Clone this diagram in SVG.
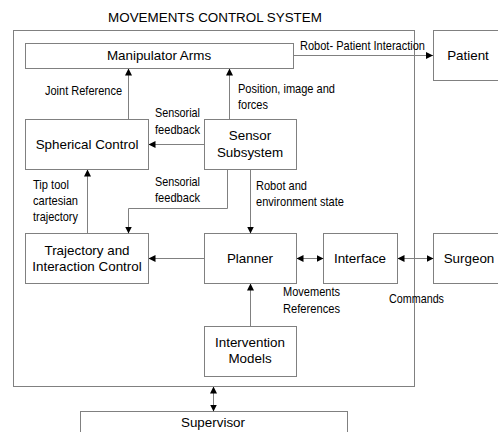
<svg xmlns="http://www.w3.org/2000/svg" width="498" height="432" viewBox="0 0 498 432">
<style>
.box{fill:#fff;stroke:#808080;stroke-width:1}
.t{font-family:"Liberation Sans",Arial,sans-serif;font-size:13.4px;fill:#000;text-anchor:middle}
.l{font-family:"Liberation Sans Narrow","Liberation Sans",Arial,sans-serif;font-size:13.5px;fill:#000}
.c{fill:none;stroke:#808080;stroke-width:1}
</style>
<defs>
<marker id="ah" viewBox="0 0 10 10" refX="10" refY="5" markerWidth="7" markerHeight="7" markerUnits="userSpaceOnUse" orient="auto-start-reverse">
<path d="M0,0 L10,5 L0,10 z" fill="#000"/>
</marker>
</defs>
<rect width="498" height="432" fill="#fff"/>
<g id="system">
<rect class="box" x="13.5" y="30.5" width="401" height="356"/>
<text class="t" x="215" y="22">MOVEMENTS CONTROL SYSTEM</text>
</g>
<g id="manipulator"><rect class="box" x="25.5" y="43.5" width="268" height="25"/><text class="t" x="159" y="60">Manipulator Arms</text></g>
<g id="patient"><rect class="box" x="433.5" y="30.5" width="70" height="50"/><text class="t" x="468" y="60">Patient</text></g>
<g id="spherical"><rect class="box" x="25.5" y="119.5" width="123" height="50"/><text class="t" x="87" y="149">Spherical Control</text></g>
<g id="sensor"><rect class="box" x="204.5" y="119.5" width="92" height="50"/><text class="t" x="250" y="140">Sensor</text><text class="t" x="250" y="157">Subsystem</text></g>
<g id="trajectory"><rect class="box" x="25.5" y="233.5" width="123" height="50"/><text class="t" x="87" y="255">Trajectory and</text><text class="t" x="87" y="271">Interaction Control</text></g>
<g id="planner"><rect class="box" x="204.5" y="233.5" width="92" height="50"/><text class="t" x="250" y="263">Planner</text></g>
<g id="interface"><rect class="box" x="323.5" y="233.5" width="74" height="50"/><text class="t" x="360" y="263">Interface</text></g>
<g id="surgeon"><rect class="box" x="433.5" y="233.5" width="70" height="50"/><text class="t" x="469" y="263">Surgeon</text></g>
<g id="intervention"><rect class="box" x="204.5" y="326.5" width="92" height="50"/><text class="t" x="250" y="347">Intervention</text><text class="t" x="250" y="363">Models</text></g>
<g id="supervisor"><rect class="box" x="80.5" y="411.5" width="267" height="30"/><text class="t" x="213" y="427">Supervisor</text></g>
<g id="connectors">
<path class="c" d="M293.5,55.5 H433" marker-end="url(#ah)"/>
<path class="c" d="M128.5,119.5 V68.5" marker-end="url(#ah)"/>
<path class="c" d="M229.5,119.5 V68.5" marker-end="url(#ah)"/>
<path class="c" d="M204.5,144.5 H148.5" marker-end="url(#ah)"/>
<path class="c" d="M227.5,169.5 V208.5 H128.5 V233.5" marker-end="url(#ah)"/>
<path class="c" d="M250.5,169.5 V233.5" marker-end="url(#ah)"/>
<path class="c" d="M87.5,233.5 V169.5" marker-end="url(#ah)"/>
<path class="c" d="M204.5,258.5 H148.5" marker-end="url(#ah)"/>
<path class="c" d="M296.5,258.5 H323.5" marker-start="url(#ah)" marker-end="url(#ah)"/>
<path class="c" d="M397.5,258.5 H433.5" marker-start="url(#ah)" marker-end="url(#ah)"/>
<path class="c" d="M250.5,326.5 V283.5" marker-end="url(#ah)"/>
<path class="c" d="M213.5,386.5 V411.5" marker-start="url(#ah)" marker-end="url(#ah)"/>
</g>
<g id="labels">
<text class="l" x="300" y="50" textLength="125" lengthAdjust="spacingAndGlyphs">Robot- Patient Interaction</text>
<text class="l" x="45" y="95" textLength="77" lengthAdjust="spacingAndGlyphs">Joint Reference</text>
<text class="l" x="238" y="93" textLength="97" lengthAdjust="spacingAndGlyphs">Position, image and</text>
<text class="l" x="238" y="108.5" textLength="30" lengthAdjust="spacingAndGlyphs">forces</text>
<text class="l" x="155" y="117" textLength="45" lengthAdjust="spacingAndGlyphs">Sensorial</text>
<text class="l" x="155" y="134" textLength="45" lengthAdjust="spacingAndGlyphs">feedback</text>
<text class="l" x="155" y="185.5" textLength="45" lengthAdjust="spacingAndGlyphs">Sensorial</text>
<text class="l" x="155" y="202" textLength="45" lengthAdjust="spacingAndGlyphs">feedback</text>
<text class="l" x="256" y="189.5" textLength="51" lengthAdjust="spacingAndGlyphs">Robot and</text>
<text class="l" x="256" y="206" textLength="88" lengthAdjust="spacingAndGlyphs">environment state</text>
<text class="l" x="33" y="188.5" textLength="36" lengthAdjust="spacingAndGlyphs">Tip tool</text>
<text class="l" x="33" y="205" textLength="45" lengthAdjust="spacingAndGlyphs">cartesian</text>
<text class="l" x="33" y="221" textLength="45" lengthAdjust="spacingAndGlyphs">trajectory</text>
<text class="l" x="283" y="296" textLength="57" lengthAdjust="spacingAndGlyphs">Movements</text>
<text class="l" x="283" y="312.5" textLength="57" lengthAdjust="spacingAndGlyphs">References</text>
<text class="l" x="389" y="302.5" textLength="55" lengthAdjust="spacingAndGlyphs">Commands</text>
</g>
</svg>
